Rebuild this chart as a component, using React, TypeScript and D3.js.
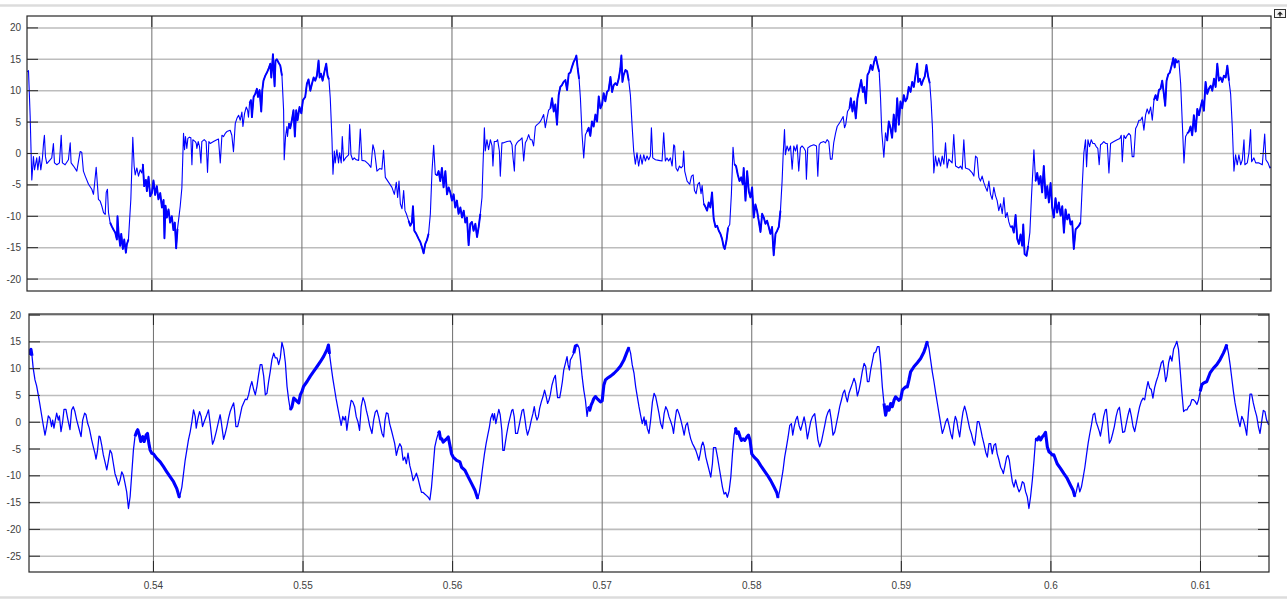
import React from "react";
import * as d3 from "d3";

// time in ms, value in the scope units
const upperA: [number, number][] = [
  [531.69, 13.0], [531.78, 13.2], [531.89, 6.0], [532.0, -4.2], [532.11, -0.5], [532.18, -2.6], [532.33, -0.7], [532.4, -2.6],
  [532.51, -0.5], [532.6, -2.6], [532.71, -0.7], [532.78, 1.6], [532.84, 2.9], [532.91, -0.5], [533.0, -1.6], [533.22, -1.0],
  [533.33, -0.7], [533.44, 1.6], [533.51, -1.5], [533.67, -1.8], [533.84, -1.5], [533.96, 2.9], [534.04, -1.5], [534.22, -1.8],
  [534.44, -1.0], [534.56, 1.7], [534.62, -1.5], [534.78, -2.0], [535.0, -2.8], [535.22, 0.3], [535.33, 0.2], [535.44, -2.8],
  [535.56, -3.6], [535.78, -4.9], [536.0, -5.7], [536.11, -6.5], [536.18, -4.9], [536.29, -2.2], [536.38, -5.2], [536.44, -7.3],
  [536.56, -7.6], [536.67, -8.4], [536.78, -9.4], [536.89, -9.7], [536.96, -6.2], [537.04, -5.7], [537.11, -9.4], [537.22, -11.0],
  [537.33, -11.6], [537.44, -12.1], [537.56, -12.6], [537.67, -13.7], [537.71, -10.0], [537.78, -12.6], [537.89, -14.7], [537.96, -12.8],
  [538.07, -15.2], [538.16, -13.7], [538.27, -15.8], [538.33, -14.5], [538.44, -13.7], [538.6, -7.3], [538.73, 2.6], [538.82, -2.0],
  [538.89, -3.4], [539.0, -2.3], [539.11, -3.6], [539.22, -2.6], [539.33, -3.1], [539.4, -1.7], [539.49, -5.2], [539.6, -4.2],
  [539.67, -6.0], [539.78, -3.7], [539.89, -6.8], [540.0, -6.3], [540.11, -4.3], [540.22, -6.6], [540.33, -5.2], [540.44, -7.3],
  [540.56, -6.3], [540.67, -8.6], [540.78, -7.4], [540.84, -13.5], [540.91, -8.3], [541.0, -10.2], [541.11, -8.9], [541.22, -11.0],
  [541.33, -10.0], [541.44, -12.2], [541.53, -11.0], [541.62, -15.1], [541.71, -12.0], [541.89, -8.4], [542.0, -5.5], [542.11, 3.2],
  [542.18, 0.6], [542.24, 2.7], [542.33, 0.8], [542.4, 2.4], [542.51, 2.6], [542.6, 2.5], [542.67, -1.8], [542.73, 2.2],
  [542.89, 1.9], [542.96, 1.6], [543.0, 0.8], [543.09, 1.9], [543.18, 1.1], [543.27, -1.5], [543.33, 1.9], [543.49, 2.2],
  [543.62, 1.9], [543.71, -3.0], [543.8, 1.9], [543.89, 1.6], [544.11, 1.9], [544.33, 2.2], [544.44, 2.3], [544.56, -1.5],
  [544.67, 2.9], [544.78, 2.7], [544.89, 3.2], [545.0, 3.5], [545.22, 3.7], [545.33, 2.9], [545.44, 0.3], [545.56, 4.8],
  [545.67, 5.6], [545.78, 6.1], [545.89, 5.3], [546.0, 6.6], [546.07, 4.3], [546.18, 6.4], [546.29, 7.4], [546.38, 6.9],
  [546.44, 5.8], [546.51, 8.0], [546.6, 8.5], [546.67, 5.8], [546.78, 9.0], [546.89, 9.5], [547.0, 10.3], [547.07, 9.0],
  [547.18, 10.1], [547.29, 6.7], [547.36, 10.1], [547.44, 11.6], [547.56, 12.4], [547.67, 12.9], [547.78, 13.5], [547.89, 14.3],
  [547.96, 12.1], [548.07, 15.8], [548.11, 13.7], [548.18, 10.7], [548.24, 14.8], [548.33, 15.0], [548.44, 14.5], [548.56, 14.0],
  [548.67, 12.4], [548.78, 6.9], [548.82, -1.0], [548.91, 2.7], [549.0, 4.3], [549.04, 2.7], [549.13, 4.8], [549.22, 4.0],
  [549.33, 5.3], [549.44, 6.9], [549.53, 2.7], [549.62, 6.9], [549.71, 5.3], [549.84, 7.4], [549.96, 6.4], [550.07, 8.5],
  [550.22, 9.0], [550.33, 11.1], [550.44, 11.8], [550.56, 10.0], [550.67, 11.1], [550.78, 12.1], [550.89, 11.6], [551.0, 12.4],
  [551.11, 14.8], [551.18, 12.1], [551.27, 12.7], [551.38, 11.6], [551.49, 12.9], [551.62, 14.3], [551.71, 12.4], [551.8, 11.8],
];

const upperB: [number, number][] = [
  [551.89, 8.8], [552.0, 2.5], [552.07, -3.3], [552.16, 0.4], [552.22, -1.5], [552.33, 0.6], [552.44, -1.5], [552.51, 0.1],
  [552.62, -1.5], [552.69, 2.7], [552.78, -1.2], [552.91, -0.7], [553.11, -0.2], [553.18, 4.6], [553.27, -0.2], [553.38, -1.0],
  [553.49, -0.7], [553.62, -1.0], [553.78, -1.1], [553.89, 3.9], [554.0, -1.1], [554.22, -1.2], [554.44, -1.7], [554.6, -2.2],
  [554.73, 1.4], [554.84, 0.4], [555.0, -2.8], [555.18, -2.4], [555.33, -2.5], [555.44, 0.5], [555.56, -3.8], [555.78, -4.6],
  [556.0, -5.4], [556.16, -6.5], [556.29, -4.6], [556.38, -7.0], [556.47, -4.4], [556.56, -8.0], [556.67, -8.8], [556.78, -5.9],
  [556.87, -9.1], [556.96, -9.6], [557.11, -10.7], [557.22, -11.5], [557.33, -11.0], [557.4, -8.4], [557.49, -12.3], [557.62, -12.8],
  [557.78, -13.6], [557.89, -14.1], [558.0, -14.9], [558.11, -15.9], [558.22, -14.4], [558.33, -13.8], [558.44, -12.8], [558.56, -9.6],
  [558.67, -2.8], [558.78, 1.3], [558.89, -3.3], [559.0, -3.5], [559.11, -2.8], [559.22, -4.4], [559.33, -2.3], [559.44, -5.4],
  [559.56, -2.8], [559.67, -6.5], [559.78, -5.4], [559.89, -6.2], [560.0, -7.5], [560.11, -6.5], [560.22, -8.6], [560.33, -7.5],
  [560.44, -9.6], [560.56, -8.6], [560.67, -10.2], [560.78, -9.1], [560.89, -11.0], [561.0, -10.2], [561.11, -14.6], [561.22, -11.2],
  [561.33, -10.9], [561.44, -12.3], [561.56, -11.2], [561.67, -13.3], [561.78, -11.7], [561.89, -9.6], [562.0, -7.0], [562.07, -1.7],
  [562.16, 4.1], [562.22, 0.4], [562.33, 2.2], [562.44, 0.6], [562.56, 2.2], [562.67, 1.2], [562.73, -2.0], [562.82, 1.9],
  [562.96, 1.9], [563.04, 2.2], [563.16, 0.4], [563.22, -3.6], [563.33, 1.7], [563.44, 1.7], [563.67, 1.9], [563.89, 2.0],
  [564.0, 1.4], [564.07, -0.7], [564.16, -2.8], [564.22, 1.2], [564.33, 1.7], [564.44, 2.0], [564.56, 2.2], [564.67, 2.5],
  [564.78, -1.2], [564.89, 1.7], [565.0, 2.2], [565.11, 3.0], [565.22, 2.2], [565.33, 2.2], [565.44, 1.2], [565.56, 4.3],
  [565.67, 4.6], [565.78, 4.8], [565.89, 5.1], [566.0, 5.6], [566.11, 6.2], [566.22, 4.1], [566.33, 5.6], [566.44, 6.9],
  [566.56, 7.2], [566.67, 8.8], [566.78, 6.7], [566.89, 7.8], [567.0, 4.6], [567.11, 9.3], [567.22, 10.6], [567.33, 10.9],
  [567.44, 11.4], [567.56, 11.7], [567.67, 10.1], [567.78, 12.7], [567.89, 12.9], [568.0, 13.8], [568.11, 14.6], [568.22, 15.1],
  [568.29, 15.6], [568.38, 13.5], [568.47, 11.9], [568.56, 8.8], [568.67, 3.0], [568.78, -0.7], [568.89, 3.0], [569.0, 3.5],
  [569.11, 4.1], [569.22, 2.8], [569.33, 5.1], [569.44, 4.3], [569.56, 6.2], [569.67, 5.1], [569.78, 9.1], [569.89, 7.2],
  [570.0, 7.8], [570.11, 9.6], [570.22, 8.3], [570.33, 9.8], [570.44, 10.1], [570.56, 12.2], [570.67, 9.8], [570.78, 10.9],
  [570.89, 11.2], [571.0, 10.9], [571.11, 11.9], [571.22, 13.5], [571.29, 15.6], [571.36, 11.4], [571.44, 12.5], [571.56, 13.3],
  [571.67, 13.1], [571.78, 11.6], [571.89, 9.3], [572.0, 4.6], [572.11, 0.4], [572.22, -1.7], [572.33, 0.1], [572.44, -2.0],
  [572.56, -0.2], [572.67, -1.7], [572.78, -0.2], [572.89, -1.2], [573.0, -0.4], [573.11, -1.0], [573.22, -0.4], [573.29, 4.1],
  [573.38, -0.7], [573.56, -1.0], [573.78, -1.1], [574.0, -1.2], [574.11, 3.3],
];

const upperC: [number, number][] = [
  [574.22, -1.2], [574.33, -0.7], [574.44, -1.2], [574.56, -0.7], [574.67, -2.0], [574.78, 1.4], [574.84, 1.2], [574.93, -2.3],
  [575.04, -2.8], [575.16, -2.0], [575.27, -2.3], [575.38, -2.0], [575.44, 0.4], [575.51, -2.8], [575.67, -4.4], [575.84, -4.9],
  [575.96, -3.6], [576.07, -3.4], [576.16, -5.9], [576.27, -6.4], [576.38, -4.9], [576.49, -4.6], [576.6, -6.4], [576.67, -5.1],
  [576.78, -8.0], [576.89, -8.5], [577.0, -9.1], [577.11, -7.8], [577.22, -8.6], [577.33, -6.2], [577.44, -10.4], [577.56, -11.7],
  [577.67, -11.5], [577.78, -12.3], [577.89, -12.8], [578.0, -13.6], [578.11, -14.9], [578.18, -15.2], [578.29, -13.9], [578.4, -11.8],
  [578.51, -11.3], [578.62, -6.5], [578.73, 1.0], [578.82, -1.7], [578.93, -2.0], [579.04, -3.3], [579.16, -4.4], [579.27, -3.8],
  [579.38, -4.9], [579.44, -2.3], [579.56, -7.5], [579.67, -2.8], [579.78, -6.0], [579.89, -7.0], [580.0, -5.4], [580.11, -10.2],
  [580.22, -8.1], [580.33, -9.1], [580.44, -10.7], [580.56, -12.5], [580.67, -9.6], [580.78, -10.2], [580.89, -11.2], [581.0, -10.7],
  [581.11, -11.7], [581.22, -12.8], [581.33, -11.7], [581.44, -16.2], [581.56, -12.8], [581.67, -12.3], [581.78, -11.7], [581.89, -9.1],
  [582.0, -4.4], [582.07, -0.2], [582.16, 3.8], [582.22, -0.2], [582.33, 1.2], [582.44, 0.4], [582.56, 1.2], [582.67, -2.5],
  [582.78, 1.2], [582.89, 0.4], [583.0, 1.4], [583.11, -2.8], [583.22, 0.9], [583.33, 1.2], [583.44, 0.9], [583.56, 0.4],
  [583.62, -4.1], [583.71, 0.9], [583.89, 1.2], [584.11, 1.4], [584.29, 1.2], [584.38, -3.6], [584.47, 1.4], [584.56, 1.7],
  [584.78, 1.9], [584.89, 1.7], [585.0, 2.2], [585.11, 1.9], [585.22, -0.9], [585.33, -0.9], [585.44, 1.7], [585.56, 3.2],
  [585.67, 4.3], [585.89, 5.1], [586.07, 5.9], [586.16, 4.1], [586.24, 4.6], [586.36, 6.7], [586.49, 7.2], [586.58, 8.8],
  [586.69, 6.7], [586.8, 8.3], [586.91, 5.6], [587.02, 8.8], [587.13, 10.1], [587.27, 11.7], [587.38, 9.8], [587.47, 10.6],
  [587.58, 8.0], [587.69, 12.5], [587.8, 13.0], [587.91, 14.1], [588.02, 13.3], [588.13, 14.6], [588.24, 15.4], [588.36, 14.1],
  [588.47, 13.0], [588.56, 8.8], [588.64, 3.5], [588.78, -0.6], [588.89, 3.3], [589.0, 2.0], [589.11, 5.1], [589.22, 4.1],
  [589.33, 2.5], [589.44, 6.2], [589.56, 3.5], [589.67, 8.8], [589.78, 4.6], [589.89, 8.3], [590.0, 7.2], [590.11, 9.3],
  [590.22, 8.3], [590.33, 8.8], [590.44, 10.6], [590.56, 9.8], [590.67, 11.4], [590.78, 10.6], [590.89, 12.5], [591.0, 14.3],
  [591.07, 11.4], [591.18, 11.9], [591.29, 10.9], [591.4, 11.7], [591.51, 12.3], [591.62, 14.1], [591.73, 12.3], [591.84, 11.2],
  [591.93, 8.3], [592.02, 4.1], [592.11, -3.1], [592.22, -0.4], [592.33, -2.0], [592.44, -0.7], [592.56, -2.0], [592.67, -0.4],
  [592.78, -1.7], [592.89, 1.7], [593.0, -2.3], [593.11, -0.9], [593.22, -1.2], [593.33, -1.5], [593.44, 3.0], [593.56, -2.0],
  [593.78, -2.3], [593.89, -2.0], [594.0, -2.5], [594.11, 2.2], [594.22, -2.3], [594.44, -2.5], [594.67, -3.1], [594.78, -3.6],
  [594.89, -0.4], [595.0, -0.7], [595.11, -3.8], [595.22, -4.4], [595.33, -3.6], [595.44, -4.6], [595.56, -5.4], [595.67, -6.0],
  [595.78, -4.4], [595.89, -6.5], [596.0, -7.3], [596.11, -5.4], [596.22, -6.7], [596.33, -7.5], [596.44, -9.1], [596.56, -8.0],
  [596.67, -9.6], [596.78, -7.0], [596.89, -10.2], [597.0, -9.4], [597.11, -10.9], [597.22, -11.7],
];

const upperD: [number, number][] = [
  [597.33, -11.6], [597.44, -12.6], [597.56, -9.8], [597.67, -13.6], [597.78, -14.4], [597.89, -12.9], [598.0, -14.7], [598.07, -11.3],
  [598.16, -16.0], [598.29, -16.3], [598.4, -14.7], [598.51, -12.6], [598.62, -6.8], [598.78, 0.6], [598.89, -4.4], [599.0, -3.1],
  [599.11, -4.9], [599.22, -3.6], [599.33, -6.2], [599.44, -2.0], [599.56, -7.1], [599.67, -5.2], [599.78, -7.8], [599.89, -4.7],
  [600.0, -8.6], [600.11, -10.2], [600.22, -7.1], [600.33, -9.4], [600.44, -7.8], [600.56, -9.9], [600.67, -8.4], [600.78, -12.6],
  [600.89, -8.9], [601.0, -10.5], [601.11, -9.7], [601.22, -11.3], [601.33, -10.8], [601.44, -15.2], [601.56, -12.1], [601.67, -11.8],
  [601.78, -11.5], [601.89, -11.0], [602.0, -5.2], [602.11, 0.1], [602.22, 2.2], [602.29, -2.1], [602.38, 2.2], [602.49, 1.1],
  [602.6, 2.2], [602.71, 1.6], [602.82, 1.6], [602.93, 1.1], [603.04, 0.8], [603.13, -1.8], [603.22, 1.4], [603.33, 1.6],
  [603.44, 1.9], [603.56, 1.6], [603.67, 1.6], [603.78, -3.1], [603.89, 1.6], [604.11, 1.9], [604.33, 2.2], [604.51, 2.4],
  [604.6, 2.9], [604.67, -1.3], [604.78, 2.9], [604.89, 2.4], [605.0, 2.9], [605.11, 3.2], [605.22, 2.9], [605.33, -0.5],
  [605.44, -0.5], [605.56, 4.0], [605.67, 4.5], [605.78, 5.3], [605.89, 5.3], [606.0, 5.8], [606.11, 3.7], [606.22, 6.1],
  [606.33, 7.1], [606.44, 6.3], [606.56, 7.4], [606.67, 5.3], [606.78, 8.5], [606.89, 9.3], [607.0, 8.5], [607.11, 10.1],
  [607.22, 10.3], [607.33, 11.6], [607.44, 9.5], [607.53, 7.6], [607.62, 11.6], [607.73, 12.6], [607.84, 12.9], [607.96, 14.0],
  [608.07, 15.2], [608.16, 13.7], [608.22, 15.0], [608.33, 14.5], [608.44, 14.8], [608.56, 11.1], [608.67, 4.8], [608.78, -1.5],
  [608.89, 2.7], [609.0, 3.2], [609.11, 3.5], [609.22, 4.3], [609.33, 2.9], [609.44, 6.1], [609.56, 3.5], [609.67, 7.1],
  [609.78, 6.1], [609.89, 7.4], [610.0, 8.5], [610.11, 6.8], [610.22, 11.4], [610.33, 9.5], [610.44, 10.3], [610.56, 10.8],
  [610.67, 10.0], [610.78, 11.9], [610.89, 10.6], [611.0, 14.3], [611.11, 11.6], [611.22, 12.1], [611.33, 11.4], [611.44, 12.4],
  [611.56, 12.1], [611.67, 14.0], [611.78, 11.6], [611.89, 9.5], [612.0, 4.3], [612.11, -2.8], [612.22, -0.2], [612.33, -1.8],
  [612.44, -0.2], [612.56, -1.8], [612.67, -1.0], [612.78, 2.2], [612.84, -1.8], [613.0, -1.5], [613.11, 0.1], [613.22, 3.8],
  [613.29, -1.3], [613.44, -0.7], [613.56, -1.5], [613.78, -1.5], [614.0, -1.8], [614.16, 3.1], [614.24, -1.0], [614.38, -1.5],
  [614.51, -2.3], [614.6, -2.1],
];

const lowerA: [number, number][] = [
  [531.67, 12.6], [531.74, 13.3], [531.81, 13.6], [531.88, 12.4], [531.96, 10.1], [532.08, 7.9], [532.19, 6.8], [532.3, 5.1],
  [532.41, 3.3], [532.52, 1.4], [532.63, -0.5], [532.75, -2.4], [532.86, -0.8], [532.97, 1.2], [533.08, 0.75], [533.19, -0.8],
  [533.26, 0.4], [533.35, -1.1], [533.44, 0.4], [533.53, 1.7], [533.64, 0.4], [533.71, 1.2], [533.82, -1.75], [533.93, 0.1],
  [534.02, 2.4], [534.15, 2.4], [534.26, 0.75], [534.42, -1.4], [534.53, 2.3], [534.64, 2.9], [534.75, 2.0], [534.87, 0.4],
  [535.04, -1.4], [535.16, -2.7], [535.27, 0.4], [535.4, 1.7], [535.49, 1.4], [535.6, -0.2], [535.71, -1.1], [535.87, -3.3],
  [535.98, -4.6], [536.09, -5.8], [536.16, -6.9], [536.25, -5.5], [536.36, -2.6], [536.43, -2.7], [536.54, -4.25], [536.65, -6.1],
  [536.76, -7.4], [536.88, -8.9], [536.99, -7.1], [537.1, -5.2], [537.21, -5.8], [537.32, -7.7], [537.43, -9.6], [537.54, -10.5],
  [537.66, -11.75], [537.77, -10.8], [537.88, -9.25], [537.99, -9.9], [538.1, -11.4], [538.21, -13.0], [538.33, -16.1], [538.44, -13.9],
  [538.55, -9.6], [538.66, -5.2], [538.77, -2.6], [538.88, -1.75], [538.95, -1.4], [539.06, -2.4], [539.15, -3.6], [539.29, -2.7],
  [539.38, -3.6], [539.51, -2.4], [539.6, -2.1], [539.69, -3.9], [539.78, -5.2], [539.89, -5.8], [540.0, -5.9], [540.22, -6.75],
  [540.45, -7.4], [540.67, -8.3], [540.89, -9.25], [541.12, -10.2], [541.34, -11.1], [541.56, -12.4], [541.74, -14.1], [541.9, -12.1],
  [542.01, -9.6], [542.12, -7.1], [542.23, -5.2], [542.34, -3.3], [542.46, -1.75], [542.57, 0.1], [542.68, 2.3], [542.79, 1.1],
  [542.86, -1.1], [542.95, 0.4], [543.08, 2.0], [543.19, 1.1], [543.28, -0.8], [543.39, 0.1], [543.53, 1.1], [543.68, 2.3],
  [543.79, -0.2], [543.95, -4.1], [544.06, -3.3], [544.2, -1.75], [544.35, 0.1], [544.46, 1.4], [544.53, 0.1], [544.69, -3.2],
  [544.8, -2.1], [544.91, -0.8], [545.02, 0.75], [545.13, 2.0], [545.25, 2.9], [545.36, 3.6], [545.42, 2.3], [545.51, -0.8],
  [545.63, -0.8], [545.76, 0.75], [545.92, 2.9], [546.03, 3.6], [546.14, 4.3], [546.25, 4.2], [546.36, 5.1], [546.47, 6.6],
  [546.58, 7.6], [546.7, 6.1], [546.81, 5.1], [546.92, 6.7], [547.03, 8.9], [547.14, 10.75], [547.25, 10.75], [547.37, 8.6],
  [547.48, 5.1], [547.59, 5.4], [547.7, 7.6], [547.81, 9.5], [547.92, 11.7], [548.04, 12.9], [548.15, 12.0], [548.26, 12.0],
  [548.37, 10.75], [548.48, 12.0], [548.59, 14.9], [548.71, 13.6], [548.82, 11.1], [548.93, 6.7], [549.04, 4.2], [549.15, 2.3],
  [549.26, 2.9], [549.38, 4.5], [549.49, 4.2], [549.6, 3.9], [549.71, 3.6], [549.82, 5.1], [549.93, 5.75], [550.04, 6.7],
  [550.27, 7.6], [550.49, 8.6], [550.71, 9.5], [550.94, 10.4], [551.16, 11.3], [551.38, 12.3], [551.61, 13.6], [551.7, 14.4],
];

const lowerB: [number, number][] = [
  [551.77, 12.75], [551.88, 10.4], [551.99, 8.2], [552.1, 6.3], [552.21, 4.4], [552.33, 2.6], [552.44, 1.0], [552.55, -0.6],
  [552.66, 1.1], [552.75, 0.4], [552.84, 1.1], [552.93, -1.5], [553.02, 0.4], [553.11, 2.25], [553.22, 4.1], [553.33, 3.8],
  [553.45, 2.9], [553.56, 1.0], [553.67, 0.1], [553.78, -1.5], [553.89, 2.9], [554.01, 4.6], [554.12, 3.8], [554.23, 2.25],
  [554.34, 1.0], [554.45, -0.6], [554.61, -2.1], [554.72, 0.4], [554.83, 1.9], [554.94, 2.25], [555.06, 1.0], [555.17, -0.6],
  [555.28, -2.1], [555.39, -2.75], [555.48, 0.4], [555.57, 1.75], [555.68, 1.6], [555.79, -0.25], [555.91, -1.5], [556.02, -2.75],
  [556.13, -4.0], [556.24, -6.2], [556.35, -4.9], [556.47, -4.0], [556.58, -4.6], [556.69, -7.1], [556.8, -6.5], [556.91, -7.75],
  [557.02, -5.75], [557.14, -8.1], [557.25, -9.3], [557.36, -10.9], [557.47, -10.25], [557.58, -9.5], [557.7, -10.6], [557.81, -11.9],
  [557.92, -13.1], [558.03, -13.1], [558.14, -13.4], [558.26, -13.7], [558.37, -14.0], [558.48, -14.5], [558.59, -12.1], [558.7, -8.4],
  [558.81, -4.6], [558.93, -3.1], [559.04, -2.1], [559.11, -1.8], [559.19, -3.1], [559.28, -3.1], [559.37, -3.7], [559.49, -3.4],
  [559.6, -3.1], [559.71, -2.75], [559.82, -4.3], [559.93, -5.9], [560.04, -6.5], [560.27, -7.1], [560.49, -7.4], [560.6, -8.4],
  [560.83, -9.0], [561.05, -10.25], [561.28, -11.5], [561.5, -12.75], [561.68, -14.3], [561.79, -13.1], [561.9, -10.9], [562.01, -8.4],
  [562.13, -5.9], [562.24, -4.0], [562.35, -2.4], [562.46, -0.9], [562.55, 0.75], [562.66, 1.6], [562.73, 0.4], [562.8, 1.6],
  [562.89, -0.25], [562.98, 1.0], [563.09, 2.4], [563.18, 1.4], [563.29, -1.5], [563.36, -5.25], [563.45, -5.25], [563.53, -3.7],
  [563.62, -2.1], [563.74, -0.25], [563.85, 1.0], [563.96, 2.25], [564.03, 2.4], [564.12, 1.0], [564.21, -2.1], [564.34, -2.1],
  [564.45, -0.6], [564.56, 1.0], [564.65, 2.25], [564.74, 2.4], [564.81, 1.1], [564.92, -1.2], [565.01, -2.4], [565.14, -1.2],
  [565.26, 0.4], [565.37, 1.6], [565.46, 2.9], [565.55, 1.3], [565.64, 0.4], [565.73, 1.0], [565.82, 2.6], [565.93, 3.8],
  [566.04, 4.75], [566.15, 6.0], [566.26, 4.75], [566.35, 3.5], [566.44, 4.1], [566.53, 5.1], [566.64, 6.9], [566.76, 8.1],
  [566.87, 8.75], [566.94, 6.6], [567.02, 4.6], [567.16, 4.6], [567.25, 6.0], [567.34, 7.6], [567.43, 9.75], [567.54, 11.0],
  [567.65, 12.25], [567.72, 10.7], [567.81, 9.75], [567.87, 11.6], [567.99, 12.25], [568.1, 12.9], [568.21, 14.25], [568.37, 14.4],
  [568.46, 13.8], [568.55, 11.6], [568.66, 8.5], [568.77, 6.0], [568.88, 4.1], [568.99, 1.1], [569.08, 2.9], [569.17, 2.25],
  [569.26, 3.2], [569.35, 3.75], [569.44, 4.4], [569.55, 4.8], [569.66, 4.4], [569.78, 4.1], [569.89, 3.8], [570.0, 4.0],
  [570.11, 6.9], [570.22, 7.9], [570.34, 8.2], [570.56, 8.6], [570.78, 9.1], [571.01, 9.75], [571.23, 10.5], [571.45, 11.6],
  [571.63, 12.9], [571.79, 14.0], [571.9, 12.9], [572.01, 10.7], [572.13, 9.1], [572.24, 6.6], [572.35, 4.75], [572.46, 2.9],
  [572.57, 1.3], [572.68, -0.25], [572.8, 1.0], [572.86, -0.6], [572.93, 0.4], [573.02, -1.2], [573.13, -2.1], [573.24, 0.4],
  [573.36, 3.8], [573.47, 5.4], [573.58, 4.75], [573.69, 3.2], [573.8, 1.6], [573.91, -0.25], [574.03, -1.2], [574.14, 1.6],
  [574.25, 2.9], [574.36, 2.25], [574.47, 1.0], [574.59, 0.1],
];

const lowerC: [number, number][] = [
  [574.7, -0.9], [574.77, -2.1], [574.86, 0.1], [574.97, 2.25], [575.03, 2.4], [575.14, 1.6], [575.26, 0.4], [575.37, -0.9],
  [575.48, -2.4], [575.59, -0.6], [575.7, -0.1], [575.81, -1.8], [575.92, -3.1], [576.04, -4.0], [576.15, -4.6], [576.26, -5.25],
  [576.37, -6.2], [576.46, -7.1], [576.55, -5.9], [576.64, -4.4], [576.73, -3.7], [576.82, -4.5], [576.93, -6.5], [577.04, -7.75],
  [577.15, -9.0], [577.26, -10.25], [577.37, -7.75], [577.44, -4.75], [577.59, -4.75], [577.71, -6.5], [577.82, -8.4], [577.93, -10.25],
  [578.04, -12.1], [578.15, -13.4], [578.26, -13.1], [578.37, -14.0], [578.49, -12.75], [578.6, -10.25], [578.71, -5.9], [578.82, -2.4],
  [578.91, -1.0], [579.0, -2.1], [579.11, -1.8], [579.22, -2.75], [579.31, -3.4], [579.42, -3.1], [579.53, -3.4], [579.67, -2.75],
  [579.78, -2.4], [579.89, -3.4], [580.0, -5.9], [580.16, -6.5], [580.38, -7.1], [580.6, -8.1], [580.82, -9.0], [581.05, -9.9],
  [581.27, -10.9], [581.49, -12.1], [581.67, -13.1], [581.76, -14.1], [581.87, -12.75], [581.98, -10.9], [582.09, -9.0], [582.2, -6.5],
  [582.32, -4.6], [582.43, -2.75], [582.54, -0.6], [582.65, -0.25], [582.74, -2.4], [582.83, -0.9], [582.94, 0.4], [583.05, 1.1],
  [583.16, -0.6], [583.27, -1.5], [583.39, -0.25], [583.5, 1.0], [583.61, -0.6], [583.72, -3.1], [583.83, -1.5], [583.94, 0.1],
  [584.05, 1.0], [584.21, 1.6], [584.32, -0.9], [584.43, -3.4], [584.54, -4.6], [584.65, -3.7], [584.77, -2.1], [584.88, -0.6],
  [584.99, 1.0], [585.1, 1.9], [585.21, 2.4], [585.32, 0.4], [585.43, -2.4], [585.55, -1.8], [585.66, -0.25], [585.77, 1.3],
  [585.88, 2.9], [585.99, 4.1], [586.1, 5.4], [586.21, 6.0], [586.3, 4.75], [586.39, 3.8], [586.5, 5.4], [586.61, 6.3],
  [586.73, 7.25], [586.84, 8.2], [586.95, 7.25], [587.06, 4.9], [587.17, 6.0], [587.28, 7.6], [587.39, 9.5], [587.51, 11.0],
  [587.62, 10.4], [587.73, 7.6], [587.84, 7.6], [587.95, 9.75], [588.06, 11.3], [588.17, 12.9], [588.29, 13.1], [588.4, 14.1],
  [588.51, 14.1], [588.62, 11.0], [588.73, 6.6], [588.84, 3.5], [588.95, 1.3], [589.06, 2.9], [589.18, 2.25], [589.29, 3.5],
  [589.4, 2.9], [589.51, 4.1], [589.62, 4.75], [589.73, 4.4], [589.84, 4.1], [589.96, 4.4], [590.07, 6.0], [590.18, 6.3],
  [590.29, 6.6], [590.4, 6.6], [590.51, 7.9], [590.62, 9.4], [590.85, 10.4], [591.07, 11.1], [591.29, 11.9], [591.51, 13.1],
  [591.63, 14.1], [591.74, 15.1], [591.85, 13.8], [591.96, 11.6], [592.07, 9.4], [592.18, 7.6], [592.3, 5.4], [592.41, 3.5],
  [592.52, 1.6], [592.63, -0.25], [592.74, -2.1], [592.85, -1.2], [592.97, 0.1], [593.08, 0.7], [593.19, -0.6], [593.3, -2.1],
  [593.41, -3.1], [593.52, -0.25], [593.61, 1.1], [593.7, 0.4], [593.79, -1.2], [593.9, -2.75], [594.01, -0.25], [594.12, 1.9],
  [594.23, 3.0], [594.34, 1.9], [594.45, 0.4], [594.57, -1.2], [594.68, -2.1], [594.79, -3.4], [594.9, -4.3], [594.99, -2.1],
  [595.08, 0.1], [595.19, 0.1], [595.3, -1.2], [595.41, -2.75], [595.52, -4.0], [595.64, -5.6], [595.75, -6.5], [595.86, -4.0],
  [595.97, -4.0], [596.08, -5.9], [596.19, -4.3], [596.3, -4.0], [596.41, -5.9], [596.53, -7.1], [596.64, -8.4], [596.75, -9.0],
  [596.82, -9.6], [596.93, -8.1], [597.04, -6.5], [597.13, -6.2], [597.22, -7.1], [597.31, -9.0],
];

const lowerD: [number, number][] = [
  [597.42, -11.1], [597.53, -12.1], [597.64, -10.75], [597.76, -12.1], [597.87, -13.0], [597.98, -12.4], [598.09, -11.1], [598.2, -11.4],
  [598.31, -13.0], [598.42, -13.9], [598.53, -16.1], [598.64, -13.9], [598.76, -10.75], [598.87, -7.1], [598.98, -3.0], [599.09, -3.3],
  [599.2, -2.75], [599.31, -3.3], [599.42, -2.75], [599.53, -2.4], [599.64, -1.9], [599.76, -4.6], [599.87, -5.5], [599.98, -5.75],
  [600.09, -6.1], [600.2, -6.1], [600.42, -7.75], [600.64, -8.6], [600.87, -9.6], [601.09, -10.5], [601.31, -11.75], [601.49, -12.75],
  [601.6, -13.9], [601.71, -12.75], [601.82, -11.3], [601.93, -13.0], [602.04, -12.1], [602.16, -10.2], [602.27, -8.4], [602.38, -6.1],
  [602.49, -3.9], [602.6, -2.1], [602.71, -0.5], [602.82, 1.4], [602.93, 1.7], [603.02, 0.1], [603.13, -0.8], [603.24, -1.75],
  [603.31, -2.6], [603.42, -0.8], [603.53, 1.1], [603.64, 2.3], [603.71, 2.4], [603.8, -0.2], [603.91, -3.9], [604.02, -3.3],
  [604.13, -2.1], [604.24, -0.8], [604.36, 1.1], [604.47, 2.3], [604.58, 2.8], [604.69, 0.4], [604.8, -1.9], [604.93, -1.75],
  [605.04, -0.2], [605.16, 1.4], [605.27, 2.6], [605.38, 1.1], [605.49, -0.8], [605.6, -1.75], [605.71, -0.2], [605.82, 1.4],
  [605.93, 2.9], [606.04, 3.9], [606.16, 4.5], [606.27, 4.2], [606.38, 6.1], [606.49, 7.6], [606.6, 6.4], [606.71, 6.1],
  [606.82, 4.5], [606.93, 6.4], [607.04, 7.6], [607.16, 8.6], [607.27, 9.8], [607.38, 11.1], [607.49, 11.5], [607.58, 9.8],
  [607.67, 7.6], [607.76, 8.6], [607.87, 11.1], [607.98, 12.4], [608.09, 11.4], [608.2, 13.6], [608.31, 14.3], [608.42, 15.1],
  [608.53, 13.6], [608.64, 9.8], [608.76, 5.4], [608.87, 2.0], [608.98, 2.3], [609.09, 2.3], [609.2, 2.9], [609.31, 3.2],
  [609.42, 4.2], [609.53, 4.2], [609.64, 3.9], [609.76, 3.3], [609.87, 4.2], [609.98, 5.75], [610.09, 7.0], [610.2, 7.3],
  [610.42, 7.6], [610.64, 9.2], [610.87, 10.1], [611.09, 10.75], [611.31, 11.7], [611.53, 12.9], [611.64, 13.6], [611.76, 14.5],
  [611.87, 12.9], [611.98, 10.75], [612.09, 8.25], [612.2, 5.75], [612.31, 3.6], [612.42, 2.0], [612.53, 0.4], [612.64, -0.8],
  [612.76, 1.1], [612.87, 0.4], [612.98, -0.8], [613.09, -2.4], [613.2, 1.7], [613.31, 5.25], [613.42, 5.25], [613.53, 3.6],
  [613.64, 2.3], [613.76, 1.1], [613.87, -0.8], [613.98, -2.1], [614.09, 0.1], [614.2, 2.2], [614.31, 2.0], [614.42, 0.4],
  [614.56, -0.5],
];

// stretches where the trace chatters so fast it reads as a thick band
const upperDense: [number, number][] = [
  [537.2, 538.5], [539.4, 541.75], [546.5, 548.7], [549.1, 551.8], [557.0, 558.5], [559.0, 561.9],
  [566.5, 568.5], [568.9, 571.8], [576.7, 578.4], [578.8, 581.9], [586.4, 588.5], [588.9, 591.9],
  [597.2, 598.5], [598.8, 601.9], [606.7, 608.5], [608.9, 611.8],
];

const lowerDense: [number, number][] = [
  [531.67, 531.9], [538.75, 541.75], [549.1, 551.8], [559.0, 561.7], [568.1, 568.45],
  [569.05, 571.8], [578.9, 581.77], [588.84, 591.75], [598.98, 601.6], [609.95, 611.77],
];

const timeTicks = [0.54, 0.55, 0.56, 0.57, 0.58, 0.59, 0.6, 0.61];
const upperTicks = [-20, -15, -10, -5, 0, 5, 10, 15, 20];
const lowerTicks = [-25, -20, -15, -10, -5, 0, 5, 10, 15, 20];
const timeRange = [0.53168, 0.61458];

const upperData = [...upperA, ...upperB, ...upperC, ...upperD];
const lowerData = [...lowerA, ...lowerB, ...lowerC, ...lowerD];

const font = "'Liberation Sans', Arial, sans-serif";

function Scope({ id, data, dense, denseWidth, lineWidth, box, yDomain, yTicks, showTime }) {
  const x = d3.scaleLinear().domain(timeRange).range([box.left, box.right]);
  const y = d3.scaleLinear().domain(yDomain).range([box.bottom, box.top]);
  const line = d3
    .line<[number, number]>()
    .x((d) => x(d[0] / 1000))
    .y((d) => y(d[1]));
  const tick = 11;
  const w = box.right - box.left;
  const h = box.bottom - box.top;

  return (
    <g>
      <clipPath id={id}>
        <rect x={box.left} y={box.top} width={w} height={h} />
      </clipPath>
      <rect x={box.left} y={box.top} width={w} height={h} fill="#fff" />
      {yTicks.map((v) => (
        <line key={"h" + v} x1={box.left} x2={box.right} y1={y(v)} y2={y(v)} stroke="#bdbdbd" strokeWidth={1.6} />
      ))}
      {timeTicks.map((t) => (
        <line key={"v" + t} x1={x(t)} x2={x(t)} y1={box.top} y2={box.bottom} stroke="#6e6e6e" strokeWidth={1} />
      ))}
      <g clipPath={`url(#${id})`} fill="none" stroke="#0000ff" strokeLinejoin="round">
        <path d={line(data) || ""} strokeWidth={lineWidth} />
        {dense.map(([a, b], i) => (
          <path key={i} d={line(data.filter((d) => d[0] >= a && d[0] <= b)) || ""} strokeWidth={denseWidth} />
        ))}
      </g>
      {yTicks.map((v) => (
        <g key={"yt" + v} stroke="#262626" strokeWidth={1}>
          <line x1={box.left} x2={box.left + tick} y1={y(v)} y2={y(v)} />
          <line x1={box.right - tick} x2={box.right} y1={y(v)} y2={y(v)} />
        </g>
      ))}
      {timeTicks.map((t) => (
        <g key={"xt" + t} stroke="#262626" strokeWidth={1}>
          <line x1={x(t)} x2={x(t)} y1={box.top} y2={box.top + tick} />
          <line x1={x(t)} x2={x(t)} y1={box.bottom - tick} y2={box.bottom} />
        </g>
      ))}
      <rect x={box.left} y={box.top} width={w} height={h} fill="none" stroke="#262626" strokeWidth={1.2} />
      {yTicks.map((v) => (
        <text key={"yl" + v} x={21} y={y(v)} dy="0.35em" textAnchor="end" fontSize={10} fill="#404040" fontFamily={font}>
          {v}
        </text>
      ))}
      {showTime &&
        timeTicks.map((t) => (
          <text key={"xl" + t} x={x(t)} y={box.bottom + 17} textAnchor="middle" fontSize={10} fill="#404040" fontFamily={font}>
            {t}
          </text>
        ))}
    </g>
  );
}

export default function App() {
  return (
    <div style={{ position: "absolute", left: 0, top: 0 }}>
      <svg width={1287} height={601} style={{ display: "block" }}>
        <rect width={1287} height={601} fill="#fff" />
        <line x1={0} x2={1287} y1={5.5} y2={5.5} stroke="#dcdcdc" strokeWidth={2.5} />
        <line x1={0} x2={1287} y1={597.5} y2={597.5} stroke="#dcdcdc" strokeWidth={2.5} />
        <g>
          <rect x={1274.5} y={9.5} width={11} height={8} fill="#f4f4f4" stroke="#333" strokeWidth={1} />
          <path d="M1277,14.5 L1280,11.5 L1283,14.5 Z M1279.3,14.5 h1.4 v2 h-1.4 Z" fill="#222" />
        </g>
        <Scope
          id="upper"
          data={upperData}
          dense={upperDense}
          denseWidth={1.9}
          lineWidth={1.1}
          box={{ left: 27, right: 1271, top: 16, bottom: 291 }}
          yDomain={[-21.9, 21.9]}
          yTicks={upperTicks}
          showTime={false}
        />
        <Scope
          id="lower"
          data={lowerData}
          dense={lowerDense}
          denseWidth={3.1}
          lineWidth={1.25}
          box={{ left: 29, right: 1269, top: 314, bottom: 572 }}
          yDomain={[-27.95, 20.2]}
          yTicks={lowerTicks}
          showTime={true}
        />
      </svg>
    </div>
  );
}
